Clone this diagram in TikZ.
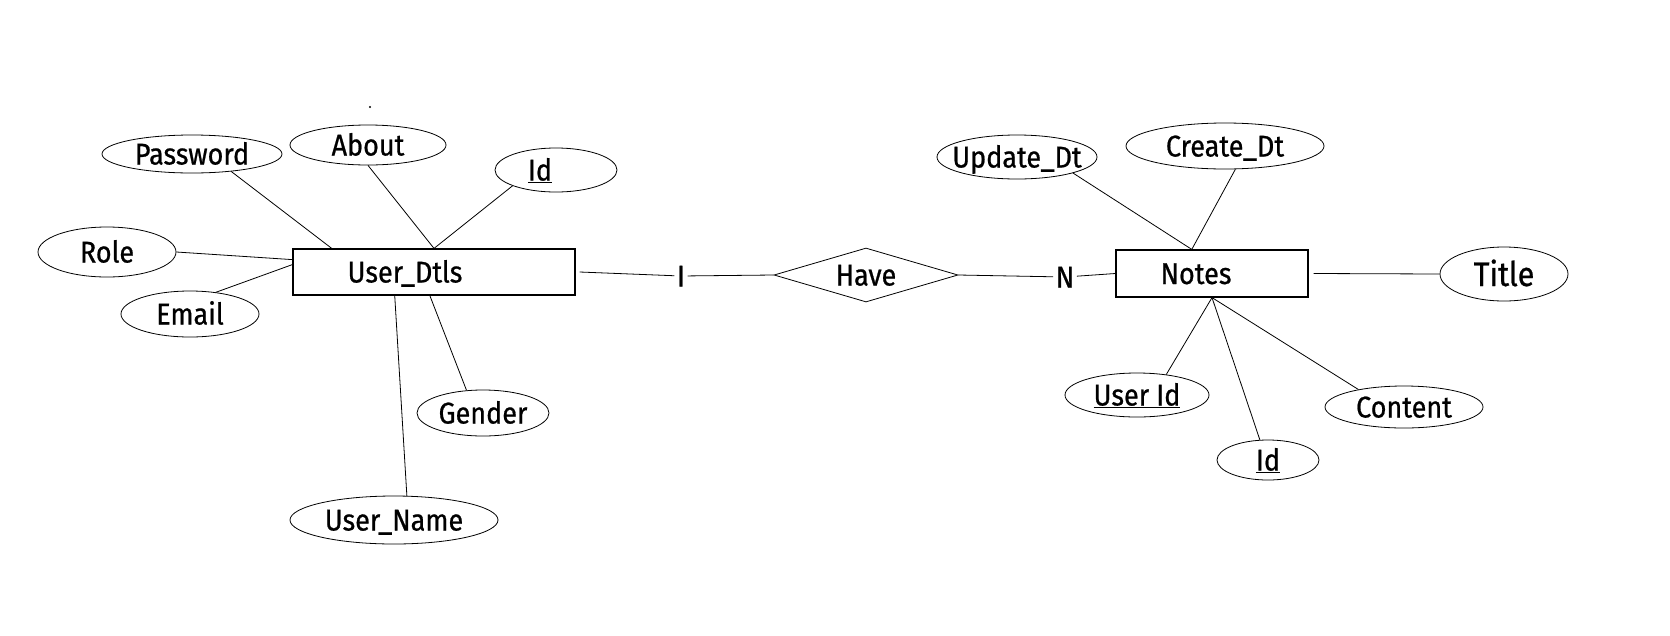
\documentclass[tikz,border=0pt]{standalone}
\usepackage{fontspec}
\setmainfont{Fira Sans}[FakeBold=0.7, FakeStretch=0.9]
\usetikzlibrary{shapes.geometric}
\begin{document}
\begin{tikzpicture}[x=1pt,y=-1pt,
  every node/.style={font=\fontsize{30}{32}\selectfont, text height=21pt, text depth=0pt},
  size/.style 2 args={minimum width=#1pt, minimum height=#2pt},
  attr/.style={ellipse, draw, line width=0.8pt, inner sep=0pt},
  ent/.style={rectangle, draw, line width=1.2pt, inner sep=0pt},
  rel/.style={diamond, draw, line width=0.8pt, inner sep=0pt},
  card/.style={inner sep=2.5pt},
  link/.style={line width=0.8pt}]
\useasboundingbox (0,0) rectangle (1670,635);

% entity User_Dtls and its attributes
\node[ent, size={282}{46}] (ud) at (434,272) {\makebox[0pt]{\hspace*{-58pt}User\_Dtls}};
\node[attr, size={180}{38}] (pw) at (192,154) {\makebox[0pt]{Password}};
\node[attr, size={156}{40}] (ab) at (368,145) {\makebox[0pt]{About}};
\node[attr, size={122}{44}] (idl) at (556,170) {\makebox[0pt]{\hspace*{-32pt}\underline{Id}}};
\node[attr, size={138}{50}] (ro) at (107,252) {\makebox[0pt]{Role}};
\node[attr, size={138}{46}] (em) at (190,314) {\makebox[0pt]{Email}};
\node[attr, size={132}{46}] (ge) at (483,413) {\makebox[0pt]{Gender}};
\node[attr, size={208}{48}] (un) at (394,520) {\makebox[0pt]{User\_Name}};

% relationship
\node[rel, size={184}{54}] (have) at (866,275) {\makebox[0pt]{Have}};
\node[card] (one) at (681,276) {I};
\node[card] (many) at (1065,277) {N};

% entity Notes and its attributes
\node[ent, size={192}{47}] (nt) at (1212,273.5) {\makebox[0pt]{\hspace*{-32pt}Notes}};
\node[attr, size={128}{54}, font=\fontsize{34}{36}\selectfont, text height=24pt] (ti) at (1504,274) {\makebox[0pt]{Title}};
\node[attr, size={160}{44}] (upd) at (1017,157) {\makebox[0pt]{Update\_Dt}};
\node[attr, size={198}{46}] (cr) at (1225,146) {\makebox[0pt]{Create\_Dt}};
\node[attr, size={144}{44}] (uid) at (1137,395) {\makebox[0pt]{\underline{User\ Id}}};
\node[attr, size={158}{42}] (co) at (1404,407) {\makebox[0pt]{Content}};
\node[attr, size={102}{40}] (idr) at (1268,460) {\makebox[0pt]{\underline{Id}}};

% attribute links
\draw[link] (pw.336) -- (ud.167);
\draw[link] (ab.270) -- (ud.north);
\draw[link] (idl.200) -- (ud.north);
\draw[link] (ro.east) -- (ud.175);
\draw[link] (em.40) -- (ud.177);
\draw[link] (ge.126) -- (ud.260);
\draw[link] (un.62) -- (ud.211);

\draw[link] (upd.344) -- (nt.130);
\draw[link] (cr.294) -- (nt.130);
\draw[link] (uid.35) -- (nt.south);
\draw[link] (idr.112) -- (nt.south);
\draw[link] (co.159) -- (nt.south);
\draw[link] ([xshift=5pt]nt.east) -- (ti.west);

% relationship links with cardinalities
\draw[link] ([xshift=4pt]ud.east) -- (one);
\draw[link] (one) -- (have.west);
\draw[link] (have.east) -- (many);
\draw[link] (many) -- (nt.west);

% stray dot
\fill (370,107) circle (1.2pt);
\end{tikzpicture}
\end{document}
